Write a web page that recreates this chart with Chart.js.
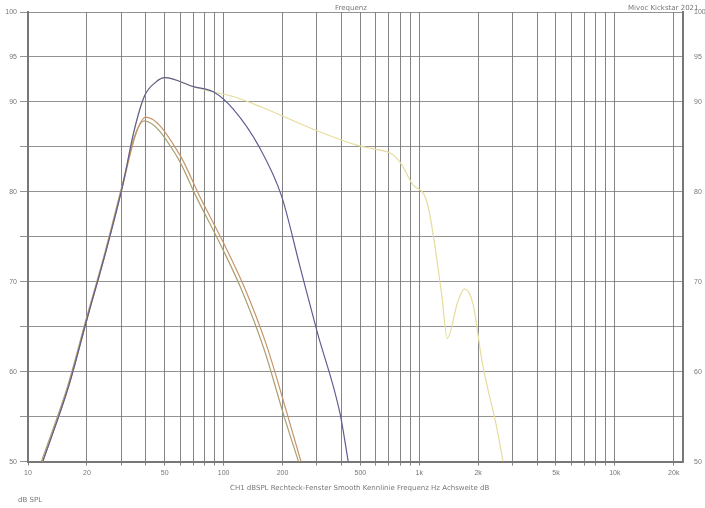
<!DOCTYPE html><html><head><script src="https://cdn.jsdelivr.net/npm/chart.js@4/dist/chart.umd.min.js"></script>
<style>body{margin:0;background:#fff}#w{width:705px;height:508px;position:relative}.t{position:absolute;font:7px "DejaVu Sans";color:#777}</style></head><body><div id="w"><canvas id="c"></canvas>
<div class="t" style="left:335px;top:4px">Frequenz</div>
<div class="t" style="left:628px;top:4px">Mivoc Kickstar 2021</div>
<div class="t" style="left:230px;top:484px">CH1 dBSPL  Rechteck-Fenster  Smooth Kennlinie  Frequenz Hz  Achsweite dB</div>
<div class="t" style="left:18px;top:496px">dB SPL</div></div>
<script>
const blueF=[11.9,16.2,20,25.1,30.7,34.6,39.3,45,50,70,89,112,152,198,245,300,394,435];
const blueV=[50,58.5,65.8,73.5,81,86.5,90.6,92.2,92.7,91.7,91.1,89.2,85,79.5,71.8,64.5,55.3,49.8];
const yelF=[11.9,16.2,20,25.1,30.7,34.6,39.3,45,50,70,89,112,157,300,480,575,725,815,920,1100,1300,1390,1570,1700,1880,2100,2510,2680];
const yelV=[50,58.5,65.8,73.5,81,86.5,90.6,92.2,92.7,91.7,91.1,90.6,89.4,86.8,85.2,84.8,84.2,83,80.9,78.7,68.7,63.7,67.7,69.2,67.6,61,53.4,50];
const orF=[11.9,16.2,20,25.1,30.7,35.8,40,59.4,75.4,100,127,166,210,250];
const orV=[50,58.5,65.8,73.5,81,86.6,88.3,84.2,79.5,74.3,69.5,62.9,55.5,49.8];
const olF=[11.7,16,19.8,24.9,30.5,35.2,39.2,57.5,73,97,123,161,204,243];
const olV=[50,58.5,65.8,73.5,81,86.3,87.9,84,79.3,74,69.2,62.5,55,49.8];
const xTicks=[10,20,50,100,200,500,1000,2000,5000,10000,20000];
const xLab=['10','20','50','100','200','500','1k','2k','5k','10k','20k'];
const yShow=[100,95,90,80,70,60,50];
const mk=(f,v)=>f.map((x,i)=>({x,y:v[i]}));
const ds=(d,c)=>({data:d,borderColor:c,borderWidth:1.2,pointRadius:0,cubicInterpolationMode:'monotone',fill:false});
new Chart(document.getElementById('c'),{type:'line',data:{datasets:[
ds(mk(blueF,blueV),'#5e5e94'),ds(mk(orF,orV),'#c8946a'),ds(mk(olF,olV),'#a8a070'),ds(mk(yelF,yelV),'#e6dc9c')]},
options:{responsive:true,maintainAspectRatio:false,animation:false,layout:{padding:{left:0,right:0,top:12,bottom:28}},
plugins:{legend:{display:false},tooltip:{enabled:false}},
scales:{x:{type:'logarithmic',min:10,max:22300,afterBuildTicks:a=>{const t=[];for(let d=10;d<22300;d*=10)for(let k=1;k<10;k++)if(d*k<=22300)t.push({value:d*k});a.ticks=t;},
ticks:{autoSkip:false,maxRotation:0,font:{size:7},color:'#777',callback:v=>{const i=xTicks.indexOf(v);return i>=0?xLab[i]:''}},
grid:{color:'#666',lineWidth:0.8,tickLength:4},border:{color:'#777',width:2}},
y:{min:50,max:100,afterFit:s=>{s.width=28},ticks:{stepSize:5,font:{size:7},color:'#777',callback:v=>yShow.includes(v)?String(v):''},grid:{color:'#777',lineWidth:0.8},border:{color:'#777',width:2}},
y2:{position:'right',min:50,max:100,afterFit:s=>{s.width=22},ticks:{stepSize:5,font:{size:7},color:'#777',callback:v=>yShow.includes(v)?String(v):''},grid:{display:false},border:{color:'#777',width:2}}}}});
</script></body></html>
